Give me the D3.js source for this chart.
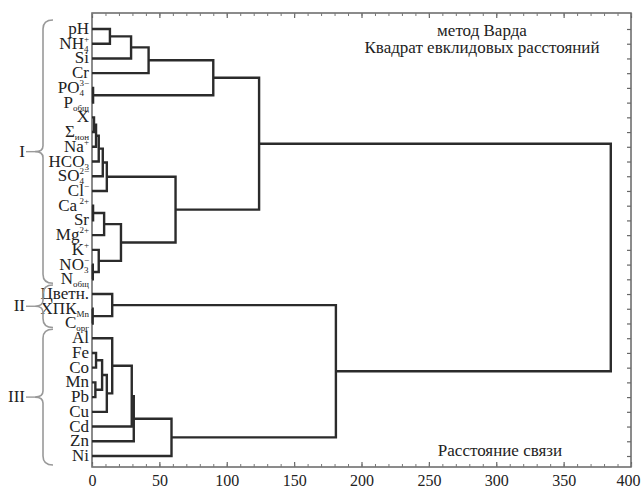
<!DOCTYPE html>
<html><head><meta charset="utf-8">
<script src="https://cdn.jsdelivr.net/npm/d3@7"></script>
<style>body{margin:0;background:#fff}svg{display:block}
svg text{font-family:"Liberation Serif","DejaVu Serif","Times New Roman",serif !important;}</style>
</head><body><svg id="c" width="641" height="488"></svg>
<script>
// ---- data ----
const leafBase = ["pH","NH","Si","Cr","PO","P","X","Σ","Na","HCO","SO","Cl","Ca","Sr","Mg","K","NO","N","Цветн.","ХПК","C","Al","Fe","Co","Mn","Pb","Cu","Cd","Zn","Ni"];
const leafSub  = ["","4","","","4","общ","","ион","","3","4","","","","","","3","общ","","Mn","орг","","","","","","","","",""];
const leafSup  = ["","+","","","3−","","","","+","","2−","−","\u00a02+","","2+","+","−","","","","","","","","","","","","",""];
// linkage: [childA, childB, height]; leaves 0..29, merge k creates node 30+k
const merges = [
  [4,5,0.8],[19,20,0.5],[16,17,0.6],[12,13,0.8],
  [6,7,1.5],[34,8,3],[35,9,5],[36,10,8],[37,11,11],
  [0,1,13.3],[39,2,29],[40,3,42],[41,30,90],
  [33,14,9],[15,32,5],[43,44,21.5],[38,45,62],[42,46,124],
  [18,31,15],
  [22,23,3],[24,25,2.5],[49,50,7.5],[51,26,11],[21,52,15],[53,27,29.5],[54,28,31],[55,29,59],
  [48,56,181],[47,57,385]
];
const tickValues = [0,50,100,150,200,250,300,350,400];
const minorTicks = d3.range(0,401,10);
const groupNames = ["I","II","III"];
const groupFirst = [0,18,21];
const groupLast  = [17,20,29];
const titleLines = ["метод Варда","Квадрат евклидовых расстояний"];
const xTitle = "Расстояние связи";

// ---- layout ----
const svg = d3.select("#c");
const pL = 92, pR = 631, pT = 13, pB = 467;
const x = d3.scaleLinear().domain([0,400]).range([pL,pR]);
const y = d3.scalePoint().domain(d3.range(leafBase.length)).range([29,456]);

// frame
svg.append("rect").attr("x",pL).attr("y",pT).attr("width",pR-pL).attr("height",pB-pT)
  .attr("fill","none").attr("stroke","#666").attr("stroke-width",1.5);

// axes ticks
const gb = svg.append("g").attr("transform",`translate(0,${pB})`)
  .call(d3.axisBottom(x).tickValues(tickValues).tickSizeInner(-5).tickSizeOuter(0).tickPadding(8));
gb.select(".domain").remove();
gb.selectAll("text").attr("font-size",16).attr("fill","#222")
  .attr("text-anchor",d=>d===400?"end":"middle").attr("dx",d=>d===400?9:0);
gb.selectAll("line").attr("stroke","#666").attr("stroke-width",1.2);
const gbm = svg.append("g").attr("transform",`translate(0,${pB})`)
  .call(d3.axisBottom(x).tickValues(minorTicks).tickSize(-3).tickFormat(""));
gbm.select(".domain").remove(); gbm.selectAll("line").attr("stroke","#777");
const gt = svg.append("g").attr("transform",`translate(0,${pT})`)
  .call(d3.axisTop(x).tickValues(tickValues).tickSize(-5).tickFormat(""));
gt.select(".domain").remove(); gt.selectAll("line").attr("stroke","#666").attr("stroke-width",1.2);
const gtm = svg.append("g").attr("transform",`translate(0,${pT})`)
  .call(d3.axisTop(x).tickValues(minorTicks).tickSize(-3).tickFormat(""));
gtm.select(".domain").remove(); gtm.selectAll("line").attr("stroke","#777");
const gr = svg.append("g").attr("transform",`translate(${pR},0)`)
  .call(d3.axisRight(y).tickSize(-4).tickFormat(""));
gr.select(".domain").remove(); gr.selectAll("line").attr("stroke","#666").attr("stroke-width",1.2);

// dendrogram
const nodes = leafBase.map((d,i)=>({h:0,y:y(i)}));
merges.forEach(m=>{
  const a = nodes[m[0]], b = nodes[m[1]];
  nodes.push({h:m[2], y:(a.y+b.y)/2, a, b});
});
svg.append("g").selectAll("path").data(nodes.filter(n=>n.a)).join("path")
  .attr("d",n=>`M${x(n.a.h)},${n.a.y}H${x(n.h)}V${n.b.y}H${x(n.b.h)}`)
  .attr("fill","none").attr("stroke","#2b2b2b").attr("stroke-width",2.4);

// leaf labels
leafBase.forEach((b,i)=>{
  const g = svg.append("g").attr("fill","#222");
  const t = g.append("text").attr("font-size",17).text(b);
  const bw = t.node().getComputedTextLength();
  let sw = 0, pw = 0;
  if (leafSub[i]) { const s = g.append("text").attr("font-size",9).attr("x",bw).attr("y",3).text(leafSub[i]); sw = s.node().getComputedTextLength(); }
  if (leafSup[i]) { const s = g.append("text").attr("font-size",9).attr("x",bw).attr("y",-7).text(leafSup[i]); pw = s.node().getComputedTextLength(); }
  const w = bw + Math.max(sw,pw);
  g.attr("transform",`translate(${89-w},${y(i)+5})`);
});

// group braces
groupNames.forEach((name,k)=>{
  const y0 = y(groupFirst[k]) - 9, y1 = y(groupLast[k]) + 4 + (k===2?5:0), ym = (y0+y1)/2;
  const xr = 53, xm = 43, xt = 35, r = 9, r2 = 6;
  const p = `M${xr},${y0}Q${xm},${y0} ${xm},${y0+r}L${xm},${ym-r2}Q${xm},${ym} ${xt},${ym}Q${xm},${ym} ${xm},${ym+r2}L${xm},${y1-r}Q${xm},${y1} ${xr},${y1}`;
  svg.append("path").attr("d",p).attr("fill","none").attr("stroke","#999").attr("stroke-width",1.6);
  svg.append("line").attr("x1",26).attr("x2",xt).attr("y1",ym).attr("y2",ym).attr("stroke","#999").attr("stroke-width",1.4);
  svg.append("text").attr("x",25).attr("y",ym+5).attr("text-anchor","end")
    .attr("font-size",17).attr("fill","#222").text(name);
});

// titles
titleLines.forEach((t,i)=>{
  svg.append("text").attr("x",482).attr("y",36+i*17).attr("text-anchor","middle")
    .attr("font-size",17).attr("fill","#222").text(t);
});
svg.append("text").attr("x",500).attr("y",456).attr("text-anchor","middle")
  .attr("font-size",17).attr("fill","#222").text(xTitle);
</script></body></html>
